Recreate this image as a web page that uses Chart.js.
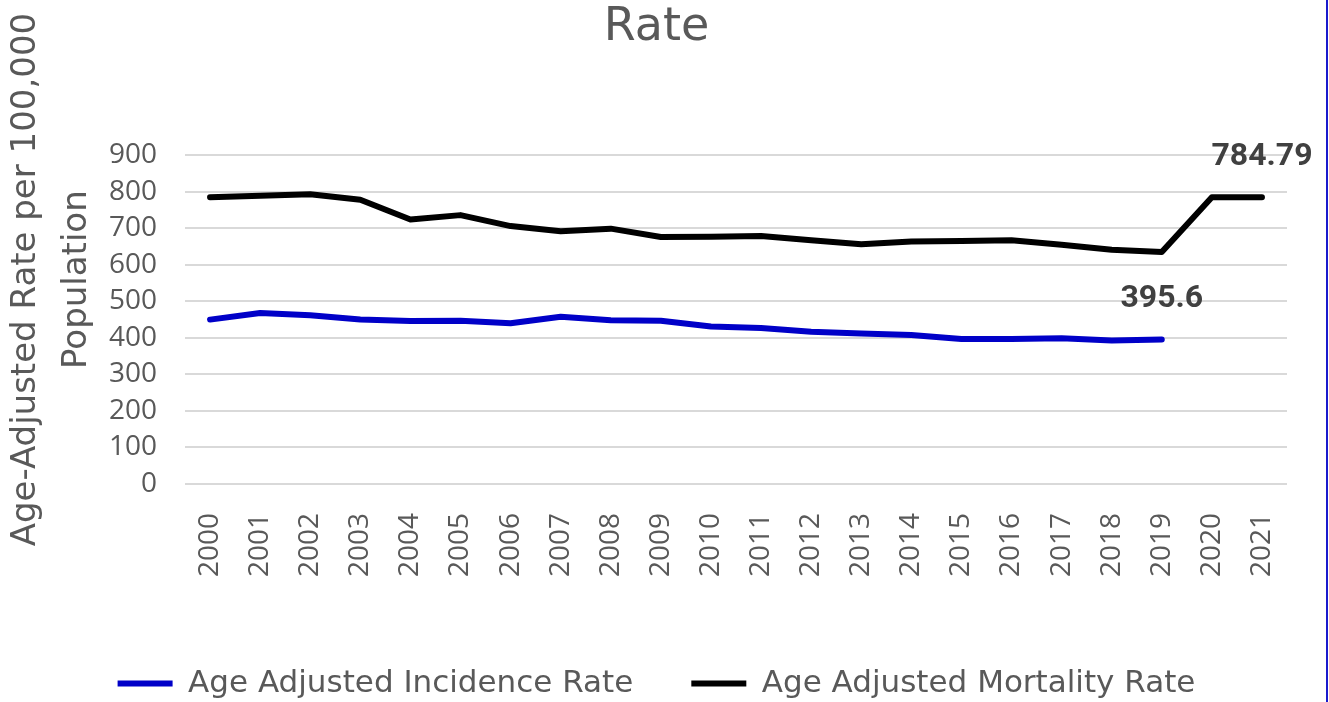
<!DOCTYPE html>
<html>
<head>
<meta charset="utf-8">
<script src="https://cdn.jsdelivr.net/npm/chart.js@4.4.1/dist/chart.umd.min.js"></script>
<style>
    html, body { margin: 0; padding: 0; background: #fff; }
    .graph-container { position: relative; width: 1326px; height: 702px; border-right: 2px solid #1a1acd; }
</style>
</head>
<body>
<div class="graph-container"><canvas id="chart"></canvas></div>
<script>
// Années (axe X)
const years = ['2000', '2001', '2002', '2003', '2004', '2005', '2006', '2007', '2008', '2009', '2010',
    '2011', '2012', '2013', '2014', '2015', '2016', '2017', '2018', '2019', '2020', '2021'];

// Séries
const incidenceRate = [450, 468, 462, 450, 446, 447, 440, 458, 448, 447, 431,
    427, 417, 412, 408, 397, 397, 399, 393, 395.6, null, null];
const mortalityRate = [785, 789, 793, 778, 724, 736, 706, 692, 699, 676, 677,
    679, 667, 656, 664, 665, 667, 655, 641, 635, 784.79, 784.79];

const seriesNames = ['Age Adjusted Incidence Rate', 'Age Adjusted Mortality Rate'];
const seriesColors = ['#0000c8', '#000000'];

// Axe Y
const yMin = 0;
const yMax = 900;
const yStep = 100;
const yTitleLines = ['Age-Adjusted Rate per 100,000', 'Population'];

const textColor = '#595959';
const labelFont = '"DejaVu Sans", "Noto Sans", sans-serif';
const tickFont = '"Open Sans", "Noto Sans", sans-serif';

// Étiquette sur le dernier point de chaque série
const lastValueLabels = {
    id: 'lastValueLabels',
    afterDatasetsDraw(chart) {
        const ctx = chart.ctx;
        chart.data.datasets.forEach((ds, i) => {
            let last = -1;
            ds.data.forEach((v, j) => { if (v !== null) last = j; });
            if (last < 0) return;
            const pt = chart.getDatasetMeta(i).data[last];
            ctx.save();
            ctx.font = 'bold 32px Roboto, sans-serif';
            ctx.fillStyle = '#404040';
            ctx.textAlign = 'center';
            ctx.textBaseline = 'middle';
            ctx.fillText(String(ds.data[last]), pt.x, pt.y - 40);
            ctx.restore();
        });
    }
};

// Titre de l'axe Y sur deux lignes (centré plus haut que la zone de tracé, comme l'original)
const yAxisTitle = {
    id: 'yAxisTitle',
    afterDraw(chart) {
        const ctx = chart.ctx;
        const cy = (chart.chartArea.top + chart.chartArea.bottom) / 2 - 40;
        const xs = [26, 77];
        ctx.save();
        ctx.font = '34px ' + labelFont;
        ctx.fillStyle = textColor;
        ctx.textAlign = 'center';
        ctx.textBaseline = 'middle';
        yTitleLines.forEach((line, i) => {
            ctx.save();
            ctx.translate(xs[i], cy);
            ctx.rotate(-Math.PI / 2);
            ctx.fillText(line, 0, 0);
            ctx.restore();
        });
        ctx.restore();
    }
};

const ctx = document.getElementById('chart').getContext('2d');

new Chart(ctx, {
    type: 'line',
    data: {
        labels: years,
        datasets: [
            {
                label: seriesNames[0],
                data: incidenceRate,
                borderColor: seriesColors[0],
                backgroundColor: seriesColors[0],
                borderWidth: 6,
                borderCapStyle: 'round',
                borderJoinStyle: 'round',
                pointRadius: 0,
                tension: 0
            },
            {
                label: seriesNames[1],
                data: mortalityRate,
                borderColor: seriesColors[1],
                backgroundColor: seriesColors[1],
                borderWidth: 6,
                borderCapStyle: 'round',
                borderJoinStyle: 'round',
                pointRadius: 0,
                tension: 0
            }
        ]
    },
    options: {
        responsive: true,
        maintainAspectRatio: false,
        animation: false,
        layout: { padding: { left: 26, right: 39, top: 0, bottom: -7 } },
        plugins: {
            title: {
                display: true,
                text: 'Rate',
                color: textColor,
                font: { family: labelFont, size: 46, weight: 'normal' },
                padding: { top: 0, bottom: 100 }
            },
            legend: {
                position: 'bottom',
                labels: {
                    usePointStyle: true,
                    pointStyle: 'line',
                    pointStyleWidth: 55,
                    color: textColor,
                    font: { family: labelFont, size: 31 },
                    padding: 58
                }
            },
            tooltip: { enabled: false }
        },
        scales: {
            x: {
                offset: true,
                grid: { display: false },
                border: { display: false },
                ticks: {
                    minRotation: 90,
                    maxRotation: 90,
                    autoSkip: false,
                    padding: 21,
                    color: textColor,
                    font: { family: tickFont, size: 28 }
                },
                afterFit(scale) { scale.height = 126; }
            },
            y: {
                min: yMin,
                max: yMax,
                ticks: {
                    stepSize: yStep,
                    autoSkip: false,
                    padding: 28,
                    color: textColor,
                    font: { family: tickFont, size: 28 }
                },
                grid: { color: '#d9d9d9', lineWidth: 2, drawTicks: false },
                border: { display: false },
                afterFit(scale) { scale.width = 159; }
            }
        }
    },
    plugins: [lastValueLabels, yAxisTitle]
});
</script>
</body>
</html>
